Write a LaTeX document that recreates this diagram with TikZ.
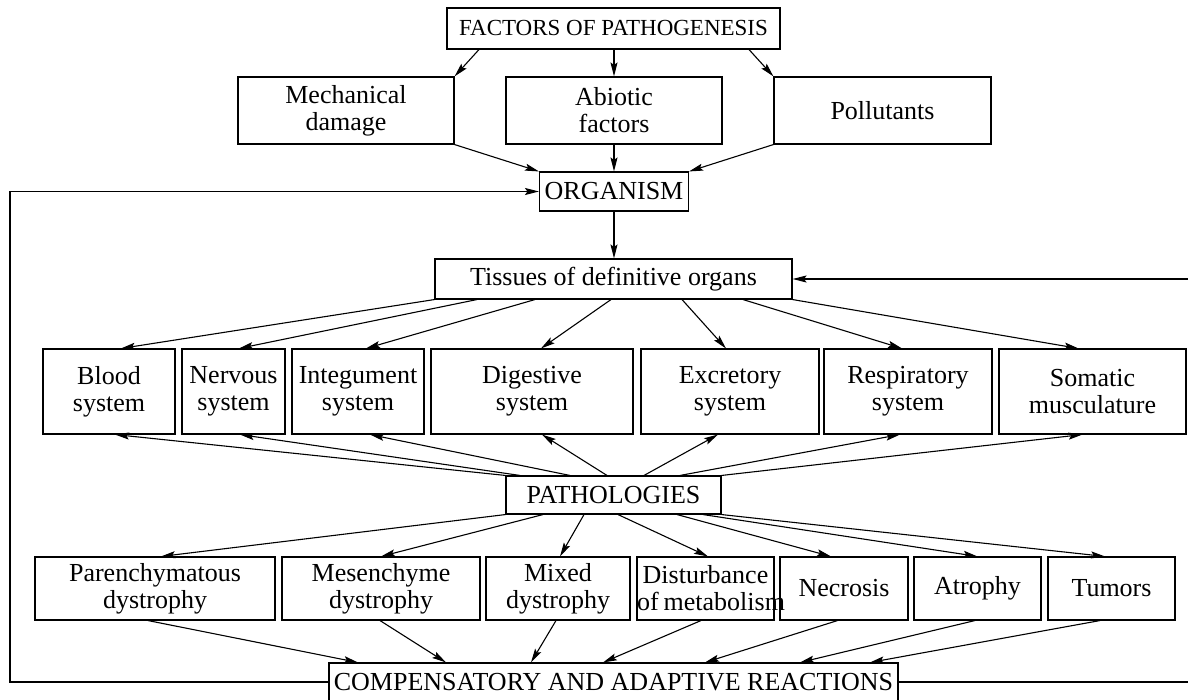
\documentclass[tikz,border=0pt]{standalone}
\usepackage{fontspec}
\setmainfont{Liberation Serif}
\usetikzlibrary{arrows.meta}
\begin{document}
\begin{tikzpicture}[x=1pt,y=-1pt,
  box/.style={draw, line width=1.1pt, inner sep=0pt, align=center, font=\fontsize{26}{27}\selectfont},
  arr/.style={-{Stealth[length=14pt,width=7pt,inset=2.5pt]}, line width=1.1pt},
  fb/.style={line width=1.1pt}]
\fill[white] (0,0) rectangle (1188,700);
\useasboundingbox (0,0) rectangle (1188,700);
% top
\node[box, font=\fontsize{23}{25}\selectfont, minimum width=333pt, minimum height=41pt] (fac) at (613.5,28.5) {FACTORS OF PATHOGENESIS};
\node[box, minimum width=216pt, minimum height=67pt] (mech) at (346,110.5) {Mechanical\\damage};
\node[box, minimum width=216pt, minimum height=67pt] (abio) at (614,110.5) {Abiotic\\factors};
\node[box, minimum width=217pt, minimum height=67pt] (poll) at (882.5,110.5) {Pollutants};
\node[box, minimum width=149pt, minimum height=39pt] (org) at (614,191.5) {ORGANISM};
\node[box, minimum width=357pt, minimum height=40pt] (tis) at (613.5,279) {Tissues of definitive organs};
% systems
\node[box, minimum width=132pt, minimum height=85pt] (blood) at (109,391.5) {Blood\\system};
\node[box, minimum width=103pt, minimum height=85pt] (nerv) at (233.5,391.5) {Nervous\\system};
\node[box, minimum width=132pt, minimum height=85pt] (integ) at (358,391.5) {Integument\\system};
\node[box, minimum width=202pt, minimum height=85pt] (dig) at (532,391.5) {Digestive\\system};
\node[box, minimum width=178pt, minimum height=85pt] (exc) at (730,391.5) {Excretory\\system};
\node[box, minimum width=168pt, minimum height=85pt] (resp) at (908,391.5) {Respiratory\\system};
\node[box, minimum width=187pt, minimum height=85pt] (som) at (1092.5,391.5) {Somatic\\musculature};
\node[box, minimum width=215pt, minimum height=38pt] (path) at (613.5,495) {PATHOLOGIES};
% pathologies
\node[box, minimum width=240pt, minimum height=63pt] (paren) at (155,588.5) {Parenchymatous\\dystrophy};
\node[box, minimum width=198pt, minimum height=63pt] (mesen) at (381,588.5) {Mesenchyme\\dystrophy};
\node[box, minimum width=144pt, minimum height=63pt] (mixed) at (558,588.5) {Mixed\\dystrophy};
\node[box, text width=137pt, minimum height=63pt] (dist) at (705.5,588.5) {Disturbance\\\makebox[137pt][l]{of\hspace{5pt}metabolism}};
\node[box, minimum width=128pt, minimum height=63pt] (necro) at (844,588.5) {Necrosis};
\node[box, minimum width=127pt, minimum height=63pt] (atro) at (977.5,588.5) {Atrophy};
\node[box, minimum width=127pt, minimum height=63pt] (tumor) at (1111.5,588.5) {Tumors};
\node[box, minimum width=569pt, minimum height=38pt] (comp) at (613.5,682) {COMPENSATORY AND ADAPTIVE REACTIONS};
% connectors top
\draw[arr] ([xshift=-134.5pt]fac.south) -- (mech.north east);
\draw[arr] (fac.south -| abio.north) -- (abio.north);
\draw[arr] ([xshift=135.5pt]fac.south) -- (poll.north west);
\draw[arr] (mech.south east) -- (org.north west);
\draw[arr] (abio.south) -- (org.north);
\draw[arr] (poll.south west) -- (org.north east);
\draw[arr] (org.south) -- (org.south |- tis.north);
% tissues to systems
\draw[arr] (tis.south west) -- ([xshift=12pt]blood.north);
\draw[arr] ([xshift=-136.5pt]tis.south) -- ([xshift=5.5pt]nerv.north);
\draw[arr] ([xshift=-78.5pt]tis.south) -- ([xshift=8pt]integ.north);
\draw[arr] ([xshift=-2.5pt]tis.south) -- ([xshift=9pt]dig.north);
\draw[arr] ([xshift=68.5pt]tis.south) -- ([xshift=-4pt]exc.north);
\draw[arr] ([xshift=129.5pt]tis.south) -- ([xshift=-6pt]resp.north);
\draw[arr] (tis.south east) -- ([xshift=-14pt]som.north);
% pathologies to systems
\draw[arr] (path.north west) -- ([xshift=6pt]blood.south);
\draw[arr] ([xshift=-93.5pt]path.north) -- ([xshift=6.5pt]nerv.south);
\draw[arr] ([xshift=-43.5pt]path.north) -- ([xshift=12pt]integ.south);
\draw[arr] ([xshift=-6.5pt]path.north) -- ([xshift=10pt]dig.south);
\draw[arr] ([xshift=30.5pt]path.north) -- ([xshift=-12pt]exc.south);
\draw[arr] ([xshift=66.5pt]path.north) -- ([xshift=-8pt]resp.south);
\draw[arr] (path.north east) -- ([xshift=-10pt]som.south);
% pathologies to row 3
\draw[arr] (path.south west) -- ([xshift=6pt]paren.north);
\draw[arr] ([xshift=-70.5pt]path.south) -- (mesen.north);
\draw[arr] ([xshift=-29.5pt]path.south) -- ([xshift=2pt]mixed.north);
\draw[arr] ([xshift=4.5pt]path.south) -- ([xshift=2.5pt]dist.north);
\draw[arr] ([xshift=63.5pt]path.south) -- ([xshift=-13pt]necro.north);
\draw[arr] ([xshift=89.5pt]path.south) -- (atro.north);
\draw[arr] (path.south east) -- ([xshift=-6.5pt]tumor.north);
% row 3 to comp
\draw[arr] ([xshift=-7pt]paren.south) -- ([xshift=-255.5pt]comp.north);
\draw[arr] ([xshift=-1pt]mesen.south) -- ([xshift=-167.5pt]comp.north);
\draw[arr] ([xshift=-2pt]mixed.south) -- ([xshift=-82.5pt]comp.north);
\draw[arr] ([xshift=-4.5pt]dist.south) -- ([xshift=-10.5pt]comp.north);
\draw[arr] ([xshift=-6.5pt]necro.south) -- ([xshift=91.5pt]comp.north);
\draw[arr] ([xshift=-2.5pt]atro.south) -- ([xshift=186.5pt]comp.north);
\draw[arr] ([xshift=-11.5pt]tumor.south) -- ([xshift=256.5pt]comp.north);
% feedback loops
\coordinate (L1) at (10,682);
\coordinate (L2) at (10,191.5);
\coordinate (R1) at (1194,682);
\coordinate (R2) at (1194,279);
\draw[arr] (comp.west) -- (L1) -- (L2) -- (org.west);
\draw[arr] (comp.east) -- (R1) -- (R2) -- (tis.east);
\end{tikzpicture}
\end{document}
